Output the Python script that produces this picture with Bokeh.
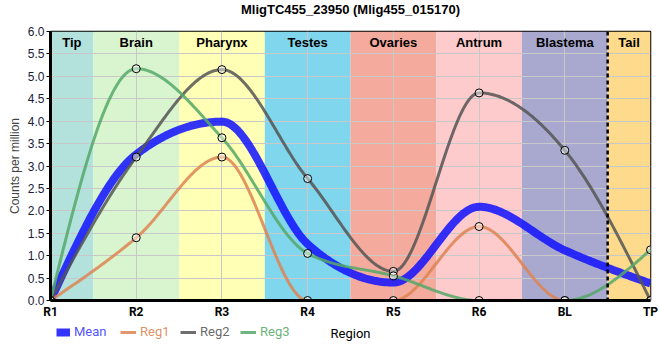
import numpy as np
from bokeh.plotting import figure
from bokeh.layouts import column
from bokeh.models import FixedTicker, Legend, LegendItem, Span, NumeralTickFormatter
from bokeh.core.properties import value
from bokeh.embed import file_html
from bokeh.resources import INLINE

# ---------------- data ----------------
chart_title = "MligTC455_23950 (Mlig455_015170)"
x_label = "Region"
y_label = "Counts per million"
regions = ["R1", "R2", "R3", "R4", "R5", "R6", "BL", "TP"]
mean_vals = [0.0, 3.26, 3.99, 1.26, 0.40, 2.09, 1.12, 0.38]
reg1 = [0.0, 1.40, 3.20, 0.0, 0.0, 1.65, 0.0, 0.0]
reg2 = [0.0, 3.20, 5.15, 2.72, 0.65, 4.63, 3.35, 0.0]
reg3 = [0.0, 5.17, 3.63, 1.05, 0.55, 0.0, 0.0, 1.13]

band_names = ["Tip", "Brain", "Pharynx", "Testes", "Ovaries", "Antrum", "Blastema", "Tail"]
band_start = [0.0, 0.5, 1.5, 2.5, 3.5, 4.5, 5.5, 6.5]
band_end = [0.5, 1.5, 2.5, 3.5, 4.5, 5.5, 6.5, 7.0]
band_colors = ["#b3e2dd", "#d9f5cf", "#ffffb5", "#80d6ec",
               "#f4aa9c", "#fdcbcb", "#a9a9cf", "#fedb8c"]
y_ticks = [0.0, 0.5, 1.0, 1.5, 2.0, 2.5, 3.0, 3.5, 4.0, 4.5, 5.0, 5.5, 6.0]

xs = list(range(len(regions)))
Y_MIN, Y_MAX = 0.0, 6.0

MEAN_COLOR = "#1010ff"
series = [("Reg1", reg1, "#dd8452"), ("Reg2", reg2, "#555555"), ("Reg3", reg3, "#55a868")]


def monotone_x(x, y, n=40):
    """d3 curveMonotoneX interpolation sampled as a polyline."""
    x = np.asarray(x, float)
    y = np.asarray(y, float)
    m = len(x)
    h = np.diff(x)
    s = np.diff(y) / h
    t = np.zeros(m)
    sg = lambda v: -1.0 if v < 0 else 1.0
    for i in range(1, m - 1):
        p_ = (s[i - 1] * h[i] + s[i] * h[i - 1]) / (h[i - 1] + h[i])
        t[i] = (sg(s[i - 1]) + sg(s[i])) * min(abs(s[i - 1]), abs(s[i]), 0.5 * abs(p_))
    t[0] = (3 * s[0] - t[1]) / 2
    t[-1] = (3 * s[-1] - t[-2]) / 2
    X, Y = [], []
    for i in range(m - 1):
        u = np.linspace(0, 1, n, endpoint=(i == m - 2))
        h00 = 2 * u**3 - 3 * u**2 + 1
        h10 = u**3 - 2 * u**2 + u
        h01 = -2 * u**3 + 3 * u**2
        h11 = u**3 - u**2
        X.extend(x[i] + h[i] * u)
        Y.extend(h00 * y[i] + h10 * h[i] * t[i] + h01 * y[i + 1] + h11 * h[i] * t[i + 1])
    return X, Y


W = 658
BL, BR = 50, 8

# ---------------- title row ----------------
tf = figure(width=W, height=20, x_range=(0, 1), y_range=(0, 1),
            output_backend="svg", toolbar_location=None,
            min_border_left=0, min_border_right=0, min_border_top=0, min_border_bottom=0)
tf.axis.visible = False
tf.grid.visible = False
tf.outline_line_color = None
tf.text(x=[0.5], y=[0.5], text=[chart_title], text_align="center", text_baseline="middle",
        y_offset=-1, text_font=value("Liberation Sans"), text_font_style="bold",
        text_font_size="13px", text_color="black")

# ---------------- main chart ----------------
p = figure(width=W, height=301, x_range=(xs[0], xs[-1]), y_range=(Y_MIN, Y_MAX),
           output_backend="svg", toolbar_location=None,
           min_border_left=BL, min_border_right=BR, min_border_top=11, min_border_bottom=20)

p.outline_line_color = "black"
p.outline_line_width = 1.5

# bands
p.quad(left=band_start, right=band_end, bottom=Y_MIN, top=Y_MAX,
       fill_color=band_colors, line_color=None, level="image")
band_centers = [(a + b) / 2 for a, b in zip(band_start, band_end)]
p.text(x=band_centers, y=[Y_MAX] * len(band_names), text=band_names,
       text_align="center", text_baseline="top", y_offset=3,
       text_font=value("Liberation Sans"), text_font_style="bold",
       text_font_size="13px", text_color="black")

# dashed separator before Tail
p.add_layout(Span(location=band_start[-1], dimension="height", line_color="black",
                  line_width=2.5, line_dash="4 3"))

# lines
mx, my = monotone_x(xs, mean_vals)
p.line(mx, my, line_color=MEAN_COLOR, line_alpha=0.85, line_width=8)
for name, vals, col in series:
    cx, cy = monotone_x(xs, vals)
    p.line(cx, cy, line_color=col, line_alpha=0.85, line_width=3)
for name, vals, col in series:
    p.scatter(xs, vals, size=8, fill_color="white", fill_alpha=0.45,
              line_color="black", line_width=1)

# axes
p.xaxis.ticker = FixedTicker(ticks=xs)
p.xaxis.major_label_overrides = {i: r for i, r in enumerate(regions)}
p.xaxis.major_label_text_font = "Roboto"
p.xaxis.major_label_text_font_style = "bold"
p.xaxis.major_label_text_font_size = "12px"
p.xaxis.major_label_text_color = "black"
p.xaxis.major_tick_out = 0
p.xaxis.major_tick_in = 0
p.xaxis.minor_tick_line_color = None
p.xaxis.axis_line_width = 3
p.xaxis.axis_line_color = "black"
p.xaxis.major_label_standoff = 4

p.yaxis.ticker = FixedTicker(ticks=y_ticks)
p.yaxis.formatter = NumeralTickFormatter(format="0.0")
p.yaxis.major_label_text_font = "Liberation Sans"
p.yaxis.major_label_text_font_size = "12px"
p.yaxis.major_label_text_color = "#1a1a3a"
p.yaxis.major_tick_out = 4
p.yaxis.major_tick_in = 0
p.yaxis.minor_tick_line_color = None
p.yaxis.axis_line_width = 3
p.yaxis.axis_line_color = "black"
p.yaxis.major_label_standoff = 2
p.yaxis.axis_label = y_label
p.yaxis.axis_label_text_font = "Liberation Sans"
p.yaxis.axis_label_text_font_style = "normal"
p.yaxis.axis_label_text_font_size = "12px"
p.yaxis.axis_label_standoff = 3

p.xgrid.ticker = FixedTicker(ticks=xs)
p.ygrid.ticker = FixedTicker(ticks=y_ticks)
p.grid.grid_line_color = "#c8c8c8"
p.grid.grid_line_width = 1

# ---------------- legend row (with the x-axis title) ----------------
q = figure(width=W, height=20, x_range=(xs[0], xs[-1]), y_range=(0, 1),
           output_backend="svg", toolbar_location=None,
           min_border_left=BL, min_border_right=BR, min_border_top=0, min_border_bottom=0)
q.axis.visible = False
q.grid.visible = False
q.outline_line_color = None
q.text(x=[(xs[0] + xs[-1]) / 2], y=[0.5], text=[x_label], text_align="center",
       text_baseline="middle", y_offset=2, text_font=value("Roboto"),
       text_font_size="13px", text_color="black")

leg_specs = [("Mean", MEAN_COLOR, 8, "#3a3aff", 6, 14)] + \
            [(n, c, 3, c, lx, 16) for (n, v, c), lx in zip(series, [70, 130, 190])]
for label, col, lw, tcol, lx, gw in leg_specs:
    # proxy renderer lying outside the visible range: only its legend swatch shows
    r = q.line([xs[0] - 2, xs[0] - 1], [-1, -1], line_color=col, line_alpha=0.85, line_width=lw)
    lg = Legend(items=[LegendItem(label=label, renderers=[r])], location=(lx, 2),
                orientation="horizontal", label_text_color=tcol, label_text_alpha=0.9,
                label_text_font="Roboto", label_text_font_size="13px",
                background_fill_alpha=0, border_line_alpha=0, padding=0, margin=0,
                glyph_width=gw, glyph_height=14, label_standoff=4, label_height=14)
    q.add_layout(lg)

layout = column(tf, p, q, spacing=0)
html = file_html(layout, INLINE)
open("out.html", "w").write(html)
